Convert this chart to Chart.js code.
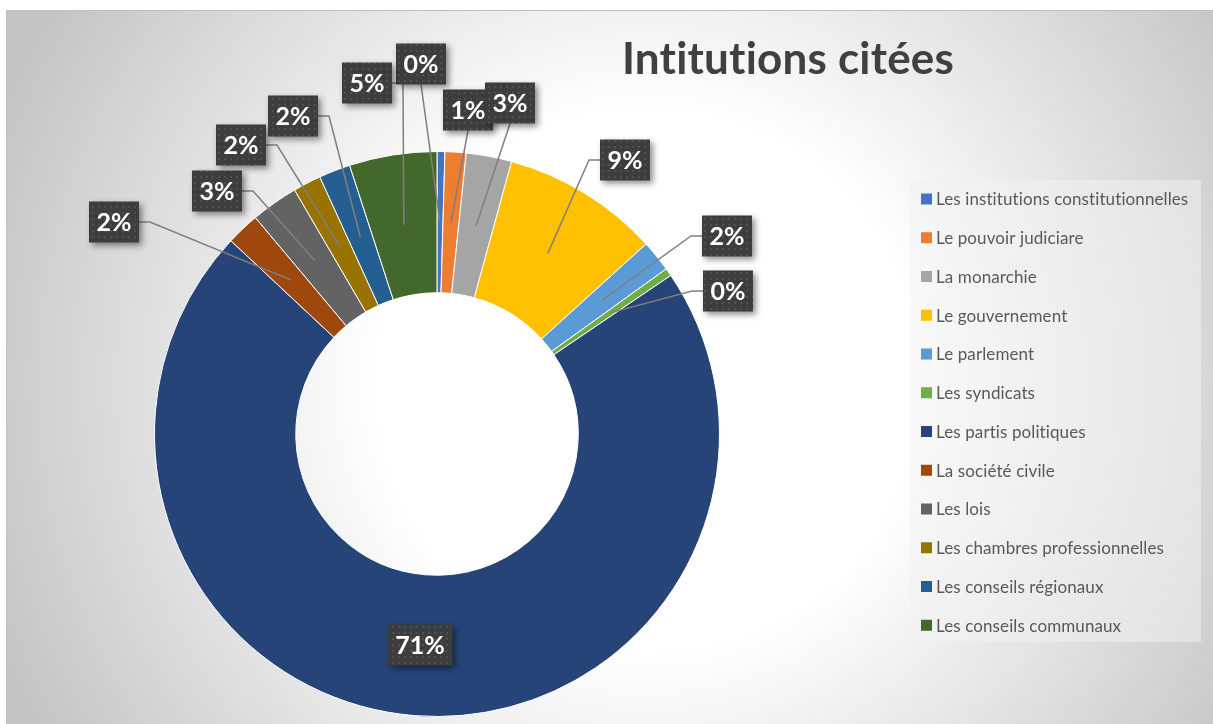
<!DOCTYPE html>
<html>
<head>
<meta charset="utf-8">
<title>Intitutions citées</title>
<script src="https://cdn.jsdelivr.net/npm/chart.js@4.4.0/dist/chart.umd.min.js"></script>
<style>
  html, body { margin: 0; padding: 0; background: #ffffff; overflow: hidden; }
  .frame {
    position: absolute; left: 6px; top: 10px; width: 1230px; height: 740px;
    border: 1px solid #bfbfbf;
    background: radial-gradient(circle at 640px 370px, #ffffff 0px, #ffffff 270px, #c4c4c4 700px);
  }
  #chart { position: absolute; left: 0; top: 0; }
</style>
</head>
<body>
<div class="frame"></div>
<canvas id="chart" width="1213" height="724"></canvas>
<script>
const categories = ['Les institutions constitutionnelles', 'Le pouvoir judiciare', 'La monarchie',
  'Le gouvernement', 'Le parlement', 'Les syndicats', 'Les partis politiques', 'La société civile',
  'Les lois', 'Les chambres professionnelles', 'Les conseils régionaux', 'Les conseils communaux'];
const shares = [0.45, 1.2, 2.6, 9.0, 1.8, 0.45, 71.4, 1.9, 2.7, 1.6, 1.8, 5.0];
const colours = ['#4472C4', '#ED7D31', '#A5A5A5', '#FFC000', '#5B9BD5', '#70AD47',
  '#264478', '#9E480E', '#636363', '#997300', '#255E91', '#43682B'];

// where each percentage box sits, and how its leader line joins it
const labelSpots = [
  {x: 421, y: 64, leader: 'bottom'},
  {x: 468, y: 110, leader: 'bottom'},
  {x: 510, y: 103, leader: 'bottom'},
  {x: 625, y: 160, leader: 'side'},
  {x: 727, y: 236, leader: 'side'},
  {x: 728, y: 291, leader: 'side'},
  {x: 420, y: 645, leader: 'none'},
  {x: 114, y: 222, leader: 'side'},
  {x: 217, y: 191, leader: 'side'},
  {x: 241, y: 145, leader: 'side'},
  {x: 293, y: 116, leader: 'side'},
  {x: 367, y: 83, leader: 'side'}
];

// dotted texture for the label boxes
const dots = document.createElement('canvas');
dots.width = 6; dots.height = 6;
const dctx = dots.getContext('2d');
dctx.fillStyle = '#3d3d3d';
dctx.fillRect(0, 0, 6, 6);
dctx.fillStyle = '#4f4f4f';
dctx.fillRect(2, 2, 2, 2);

const pctLabels = {
  id: 'pctLabels',
  afterDatasetsDraw(chart) {
    const ctx = chart.ctx;
    const meta = chart.getDatasetMeta(0);
    const total = shares.reduce((a, b) => a + b, 0);
    ctx.save();
    ctx.font = 'bold 25px Lato';
    const boxes = meta.data.map((arc, i) => {
      const p = arc.getProps(['x', 'y', 'startAngle', 'endAngle', 'innerRadius', 'outerRadius'], true);
      const mid = (p.startAngle + p.endAngle) / 2;
      const r = (p.innerRadius + p.outerRadius) / 2;
      const text = Math.round(shares[i] / total * 100) + '%';
      return {
        ax: p.x + Math.cos(mid) * r,
        ay: p.y + Math.sin(mid) * r,
        text: text,
        w: ctx.measureText(text).width + 15,
        h: 41,
        spot: labelSpots[i]
      };
    });

    // leader lines first
    ctx.strokeStyle = '#7f7f7f';
    ctx.lineWidth = 1.5;
    boxes.forEach(b => {
      const s = b.spot;
      if (s.leader === 'none') return;
      ctx.beginPath();
      if (s.leader === 'bottom') {
        ctx.moveTo(s.x, s.y + b.h / 2);
      } else {
        const side = b.ax > s.x ? 1 : -1;
        const ex = s.x + side * b.w / 2;
        ctx.moveTo(ex, s.y);
        ctx.lineTo(ex + side * 11, s.y);
      }
      ctx.lineTo(b.ax, b.ay);
      ctx.stroke();
    });

    // then the boxes
    const pattern = ctx.createPattern(dots, 'repeat');
    boxes.forEach(b => {
      const s = b.spot;
      ctx.save();
      ctx.shadowColor = 'rgba(0,0,0,0.45)';
      ctx.shadowBlur = 6;
      ctx.shadowOffsetX = 3;
      ctx.shadowOffsetY = 3;
      ctx.fillStyle = pattern;
      ctx.fillRect(s.x - b.w / 2, s.y - b.h / 2, b.w, b.h);
      ctx.restore();
      ctx.fillStyle = '#ffffff';
      ctx.textAlign = 'center';
      ctx.textBaseline = 'middle';
      ctx.fillText(b.text, s.x, s.y + 1);
    });
    ctx.restore();
  }
};

const titleAndLegend = {
  id: 'titleAndLegend',
  afterDraw(chart) {
    const ctx = chart.ctx;
    ctx.save();
    ctx.letterSpacing = '0.2px'; // keeps Lato from joining "ti"
    // title
    ctx.fillStyle = '#404040';
    ctx.font = 'bold 44px Lato';
    ctx.textAlign = 'center';
    ctx.textBaseline = 'middle';
    ctx.fillText('Intitutions citées', 788, 60);

    // legend panel
    ctx.fillStyle = 'rgba(242,242,242,0.5)';
    ctx.fillRect(910, 180, 291, 462);
    ctx.font = '17px Lato';
    ctx.letterSpacing = '0.1px';
    ctx.textAlign = 'left';
    categories.forEach((name, i) => {
      const y = 199 + i * 38.75;
      ctx.fillStyle = colours[i];
      ctx.fillRect(921, y - 5.5, 11, 11);
      ctx.fillStyle = '#595959';
      ctx.fillText(name, 936, y + 1);
    });
    ctx.restore();
  }
};

new Chart(document.getElementById('chart'), {
  type: 'doughnut',
  data: {
    labels: categories,
    datasets: [{
      data: shares,
      backgroundColor: colours,
      borderColor: '#ffffff',
      borderWidth: 1
    }]
  },
  options: {
    responsive: false,
    devicePixelRatio: 1,
    animation: false,
    cutout: '50%',
    layout: { padding: { left: 154, top: 151, right: 493, bottom: 7 } },
    plugins: {
      legend: { display: false },
      tooltip: { enabled: false },
      title: { display: false }
    }
  },
  plugins: [pctLabels, titleAndLegend]
});
</script>
</body>
</html>
